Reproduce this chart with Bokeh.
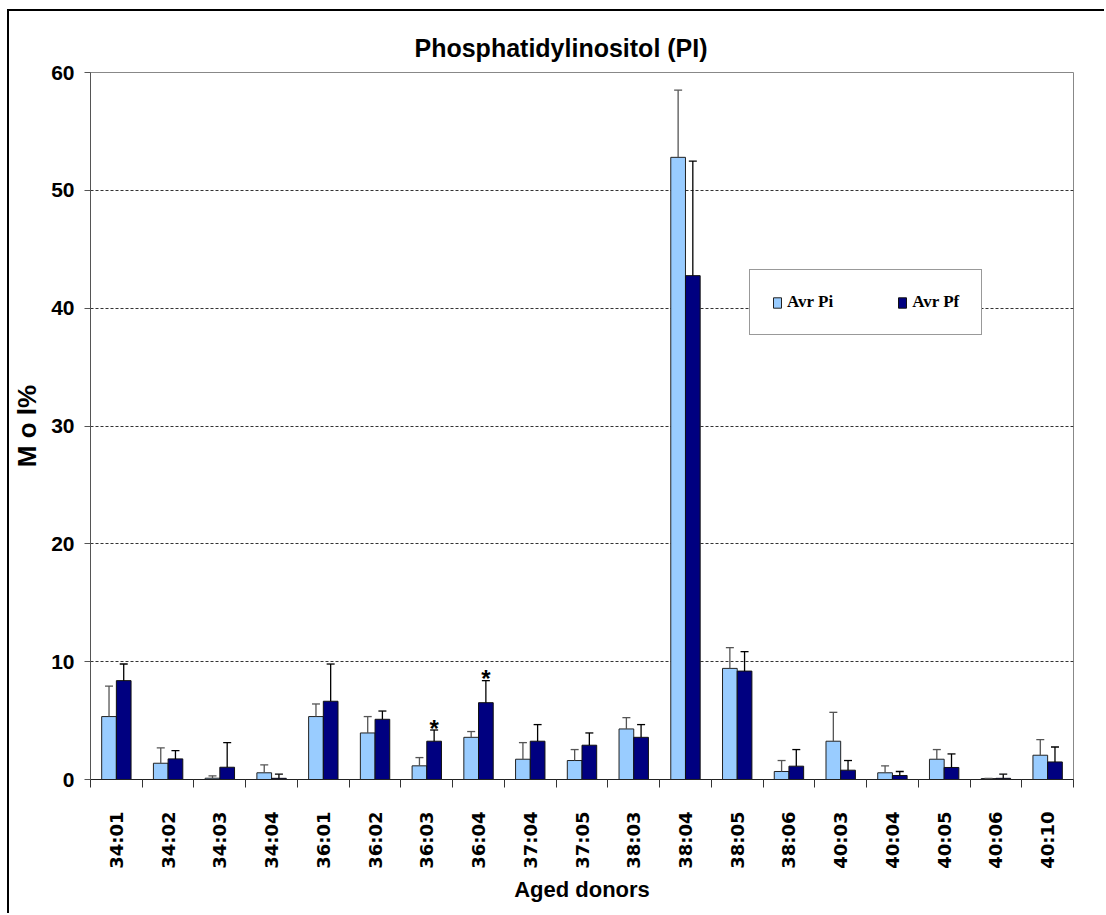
from math import pi as PI

from bokeh.core.properties import value
from bokeh.embed import file_html
from bokeh.models import (ColumnDataSource, FixedTicker, Legend, LegendItem,
                          Range1d, TeeHead, Whisker)
from bokeh.plotting import figure
from bokeh.resources import INLINE

# Molecular species of PI (aged donors)
species = ["34:01", "34:02", "34:03", "34:04", "36:01", "36:02", "36:03", "36:04",
           "37:04", "37:05", "38:03", "38:04", "38:05", "38:06", "40:03", "40:04",
           "40:05", "40:06", "40:10"]

# Mean mol% and standard deviation, initial (Pi) and final (Pf)
avr_pi = [5.34, 1.38, 0.11, 0.57, 5.34, 3.95, 1.16, 3.58, 1.72, 1.61, 4.29, 52.8,
          9.43, 0.68, 3.25, 0.57, 1.72, 0.08, 2.06]
sd_pi = [2.59, 1.30, 0.20, 0.67, 1.07, 1.39, 0.70, 0.49, 1.41, 0.93, 0.96, 5.7,
         1.76, 0.93, 2.45, 0.59, 0.82, 0.02, 1.33]
avr_pf = [8.39, 1.75, 1.04, 0.10, 6.64, 5.11, 3.25, 6.52, 3.25, 2.91, 3.58, 42.76,
          9.20, 1.13, 0.79, 0.34, 1.02, 0.10, 1.49]
sd_pf = [1.41, 0.70, 2.09, 0.35, 3.16, 0.70, 0.95, 1.87, 1.41, 1.04, 1.08, 9.72,
         1.65, 1.41, 0.82, 0.34, 1.15, 0.35, 1.27]

# Species with a significant Pi/Pf difference
significant = ["36:03", "36:04"]

y_ticks = [0, 10, 20, 30, 40, 50, 60]

PI_COLOR = "#99CCFF"
PF_COLOR = "#000080"
SANS = "Liberation Sans"

n = len(species)
half = 0.142  # half width of one bar, in category units
centers = [i + 0.5 for i in range(n)]

src = ColumnDataSource(dict(
    name=species,
    x_pi=[c - half for c in centers],
    x_pf=[c + half for c in centers],
    pi=avr_pi,
    pf=avr_pf,
    pi_top=[m + s for m, s in zip(avr_pi, sd_pi)],
    pf_top=[m + s for m, s in zip(avr_pf, sd_pf)],
))

# The chart sits inside a thin black frame (left and top edges visible)
p = figure(width=1097, height=904, output_backend="svg", toolbar_location=None,
           x_range=Range1d(0, n), y_range=Range1d(0, 60),
           min_border_left=80, min_border_right=33, min_border_top=61,
           min_border_bottom=136,
           title="Phosphatidylinositol (PI)",
           styles={"margin-left": "7px", "margin-top": "9px",
                   "border-left": "2px solid black",
                   "border-top": "2px solid black"})
p.title.align = "left"
p.title.offset = 324
p.title.standoff = 22
p.title.text_font = SANS
p.title.text_font_style = "bold"
p.title.text_font_size = "25px"
p.title.text_color = "black"

p.background_fill_color = "white"
p.border_fill_color = "white"
p.outline_line_color = "#888888"
p.outline_line_width = 1

bw = 2 * half
r_pi = p.vbar(x="x_pi", top="pi", width=bw, source=src, fill_color=PI_COLOR,
              line_color="#222222", line_width=1)
r_pf = p.vbar(x="x_pf", top="pf", width=bw, source=src, fill_color=PF_COLOR,
              line_color="#111111", line_width=1)

# Upper error bars only
for xcol, lo, hi, col in (("x_pi", "pi", "pi_top", "#555555"),
                          ("x_pf", "pf", "pf_top", "#000000")):
    w = Whisker(source=src, base=xcol, lower=lo, upper=hi, dimension="height",
                line_color=col, line_width=1.3, lower_head=None,
                upper_head=TeeHead(size=8, line_color=col, line_width=1.3),
                level="annotation")
    p.add_layout(w)

# Significance asterisks above the Pf error bars
star_x = [src.data["x_pf"][species.index(s)] for s in significant]
star_y = [src.data["pf_top"][species.index(s)] for s in significant]
p.text(x=star_x, y=star_y, text=["*"] * len(star_x), text_align="center",
       text_baseline="alphabetic", y_offset=-2, text_font=value(SANS),
       text_font_style="bold", text_font_size="24px", text_color="black")

# Y axis
p.yaxis.ticker = FixedTicker(ticks=y_ticks)
p.yaxis.major_tick_out = 6
p.yaxis.major_tick_in = 0
p.yaxis.minor_tick_line_color = None
p.yaxis.axis_line_color = "#555555"
p.yaxis.major_tick_line_color = "#555555"
p.yaxis.major_label_text_font = SANS
p.yaxis.major_label_text_font_style = "bold"
p.yaxis.major_label_text_font_size = "21px"
p.yaxis.major_label_text_color = "black"
p.yaxis.major_label_standoff = 10
p.yaxis.axis_label = "M o l%"
p.yaxis.axis_label_text_font = SANS
p.yaxis.axis_label_text_font_style = "bold"
p.yaxis.axis_label_text_font_size = "26px"
p.yaxis.axis_label_text_color = "black"
p.yaxis.axis_label_standoff = 6

# X axis: labels at centres, tick marks at category boundaries
p.xaxis.ticker = FixedTicker(ticks=centers, minor_ticks=list(range(n + 1)))
p.xaxis.major_label_overrides = {c: s for c, s in zip(centers, species)}
p.xaxis.major_tick_line_color = None
p.xaxis.major_tick_out = 0
p.xaxis.major_tick_in = 0
p.xaxis.minor_tick_out = 8
p.xaxis.minor_tick_in = 0
p.xaxis.minor_tick_line_color = "#333333"
p.xaxis.axis_line_color = "#222222"
p.xaxis.major_label_orientation = PI / 2
p.xaxis.major_label_text_font = "DejaVu Sans"
p.xaxis.major_label_text_font_style = "bold"
p.xaxis.major_label_text_font_size = "18px"
p.xaxis.major_label_text_color = "black"
p.xaxis.major_label_standoff = 24
p.xaxis.axis_label = "Aged donors"
p.xaxis.axis_label_text_font = SANS
p.xaxis.axis_label_text_font_style = "bold"
p.xaxis.axis_label_text_font_size = "22px"
p.xaxis.axis_label_text_color = "black"
p.xaxis.axis_label_standoff = 5

p.xgrid.grid_line_color = None
p.ygrid.ticker = FixedTicker(ticks=y_ticks)
p.ygrid.grid_line_color = "#333333"
p.ygrid.grid_line_dash = "3 2"
p.ygrid.grid_line_width = 1

legend = Legend(items=[LegendItem(label="Avr Pi", renderers=[r_pi]),
                       LegendItem(label="Avr Pf", renderers=[r_pf])],
                orientation="horizontal", location=(659, 444),
                padding=22, spacing=64, label_standoff=5,
                glyph_width=10, glyph_height=13,
                label_text_font="Liberation Serif", label_text_font_style="bold",
                label_text_font_size="17px", label_text_color="black",
                border_line_color="#333333", border_line_width=1,
                background_fill_color="white", background_fill_alpha=1.0,
                margin=0)
p.add_layout(legend, "center")

open("out.html", "w").write(file_html(p, INLINE))
